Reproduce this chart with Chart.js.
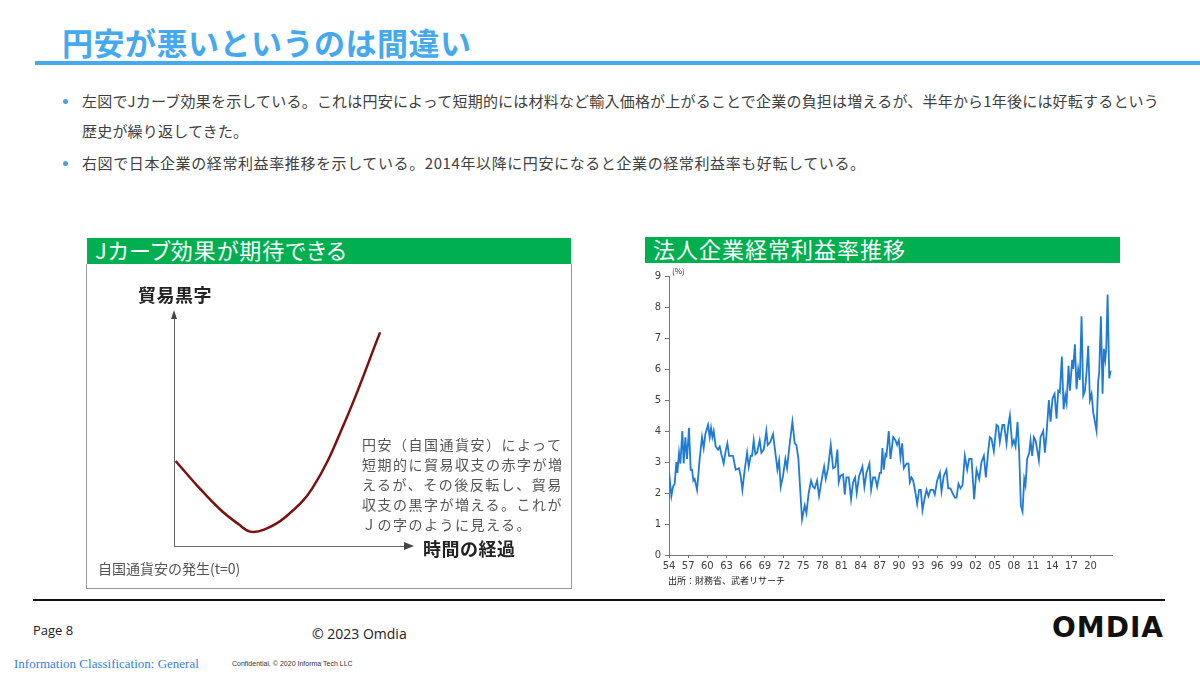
<!DOCTYPE html>
<html lang="ja">
<head>
<meta charset="utf-8">
<script src="https://cdn.jsdelivr.net/npm/chart.js@4.4.0/dist/chart.umd.min.js"></script>
<style>
body { margin:0; width:1200px; height:675px; background:#fff; position:relative; overflow:hidden; font-family:"Noto Sans CJK JP","Noto Sans",sans-serif; }
.abs { position:absolute; white-space:nowrap; }
#title { left:62px; top:24px; font-size:31px; line-height:36px; font-weight:700; color:#45a9f0; letter-spacing:0.5px; }
#rule { left:35px; top:61px; width:1165px; height:4px; background:#45a9f0; }
.bul { left:82px; font-size:15px; line-height:20px; color:#404040; letter-spacing:0.2px; }
.dot { left:63px; width:5px; height:5px; border-radius:50%; background:#4a9fe0; }
.hdr { background:#00b050; color:#fff; font-size:22px; line-height:22px; padding-left:8px; box-sizing:border-box; letter-spacing:1px; }
#leftBox { left:86px; top:264px; width:486px; height:325px; border:1px solid #999; border-top:none; box-sizing:border-box; }
.lbl { font-weight:700; font-size:18px; line-height:20px; color:#222; letter-spacing:0.5px; }
.note { left:362px; font-size:14px; line-height:20px; color:#555; letter-spacing:1.5px; }
canvas { position:absolute; }
</style>
</head>
<body>
<div class="abs" id="title">円安が悪いというのは間違い</div>
<div class="abs" id="rule"></div>

<div class="abs dot" style="top:99px"></div>
<div class="abs bul" style="top:91px">左図でJカーブ効果を示している。これは円安によって短期的には材料など輸入価格が上がることで企業の負担は増えるが、半年から1年後には好転するという</div>
<div class="abs bul" style="top:121px">歴史が繰り返してきた。</div>
<div class="abs dot" style="top:161px"></div>
<div class="abs bul" style="top:153px; letter-spacing:0.6px;">右図で日本企業の経常利益率推移を示している。2014年以降に円安になると企業の経常利益率も好転している。</div>

<div class="abs hdr" style="left:87px; top:238px; width:484px; height:26px; font-feature-settings:'palt';">Jカーブ効果が期待できる</div>
<div class="abs" id="leftBox"></div>
<canvas id="jChart" width="484" height="323" style="left:87px; top:265px;"></canvas>
<div class="abs lbl" style="left:138px; top:284px;">貿易黒字</div>
<div class="abs lbl" style="left:423px; top:538px;">時間の経過</div>
<div class="abs note" style="top:434px">円安（自国通貨安）によって</div>
<div class="abs note" style="top:454px">短期的に貿易収支の赤字が増</div>
<div class="abs note" style="top:474px">えるが、その後反転し、貿易</div>
<div class="abs note" style="top:494px">収支の黒字が増える。これが</div>
<div class="abs note" style="top:514px">Ｊの字のように見える。</div>
<div class="abs" style="left:98px; top:558px; font-size:14px; line-height:20px; color:#555;">自国通貨安の発生(t=0)</div>

<div class="abs hdr" style="left:645px; top:237px; width:475px; height:26px;">法人企業経常利益率推移</div>
<canvas id="rateChart" width="495" height="316" style="left:630px; top:262px;"></canvas>
<div class="abs" style="left:672px; top:266px; font-size:8px; line-height:10px; color:#333;">(%)</div>
<div class="abs" style="left:668px; top:575px; font-size:9px; line-height:12px; color:#222;">出所：財務省、武者リサーチ</div>

<div class="abs" style="left:33px; top:599px; width:1132px; height:2px; background:#111;"></div>
<div class="abs" style="left:33px; top:621px; font-family:'Open Sans',sans-serif; font-size:13px; color:#222;">Page 8</div>
<div class="abs" style="left:312px; top:624px; font-family:'Open Sans',sans-serif; font-size:14px; color:#222;">© 2023 Omdia</div>
<div class="abs" style="left:14px; top:656px; font-family:'Liberation Serif',serif; font-size:13px; color:#3a7fd5;">Information Classification: General</div>
<div class="abs" style="left:232px; top:660px; font-family:'Liberation Sans',sans-serif; font-size:7px; color:#333;">Confidential. © 2020 Informa Tech LLC</div>
<div class="abs" style="left:1052px; top:611px; font-family:'DejaVu Sans',sans-serif; font-weight:900; font-size:28px; line-height:34px; letter-spacing:1px; color:#111;">OMDIA</div>

<script>
// J-curve sketch (time after depreciation vs trade balance)
var jTime = [0.07, 1.0, 2.0, 2.8, 3.3, 3.9, 4.8, 6.0, 7.4, 8.92];
var jBalance = [3.73, 2.65, 1.60, 0.95, 0.63, 0.72, 1.25, 2.55, 5.45, 9.37];

// ordinary profit ratio of Japanese corporations (%)
var rateYears = [
  1954.00,1954.37,1954.63,1954.89,1955.15,1955.31,1955.57,1955.78,1956.09,1956.30,
  1956.56,1956.82,1957.13,1957.39,1957.60,1957.81,1958.02,1958.39,1958.80,1959.17,
  1959.43,1959.69,1960.11,1960.37,1960.58,1960.79,1961.00,1961.31,1961.67,1961.94,
  1962.20,1962.56,1962.87,1963.14,1963.40,1964.02,1964.44,1964.96,1965.22,1965.49,
  1965.85,1966.22,1966.48,1966.79,1967.00,1967.26,1967.52,1967.78,1968.20,1968.46,
  1968.83,1969.24,1969.45,1969.87,1970.29,1970.71,1970.97,1971.23,1971.49,1971.85,
  1972.22,1972.48,1972.90,1973.32,1973.68,1973.94,1974.26,1974.57,1974.83,1975.25,
  1975.51,1975.87,1976.24,1976.55,1976.81,1977.18,1977.49,1978.01,1978.28,1978.54,
  1978.90,1979.32,1979.69,1980.05,1980.36,1980.57,1980.83,1981.25,1981.51,1981.77,
  1982.14,1982.50,1982.82,1983.13,1983.39,1983.76,1984.28,1984.59,1984.91,1985.38,
  1985.64,1985.95,1986.26,1986.58,1986.99,1987.20,1987.41,1987.62,1987.88,1988.04,
  1988.40,1988.67,1989.09,1989.45,1989.71,1989.98,1990.24,1990.50,1990.76,1991.18,
  1991.49,1991.70,1991.96,1992.22,1992.59,1992.85,1993.16,1993.42,1993.68,1993.94,
  1994.31,1994.62,1994.94,1995.35,1995.61,1995.98,1996.40,1996.66,1997.02,1997.44,
  1997.70,1998.07,1998.38,1998.75,1999.01,1999.32,1999.63,1999.95,2000.31,2000.68,
  2000.99,2001.36,2001.77,2002.14,2002.56,2002.92,2003.29,2003.60,2003.97,2004.23,
  2004.49,2004.85,2005.27,2005.53,2005.79,2006.21,2006.47,2006.84,2007.10,2007.36,
  2007.73,2007.99,2008.25,2008.56,2008.82,2009.08,2009.34,2009.61,2009.81,2010.07,
  2010.39,2010.60,2010.86,2011.12,2011.38,2011.64,2011.90,2012.16,2012.58,2012.84,
  2013.10,2013.47,2013.73,2014.04,2014.36,2014.67,2014.93,2015.19,2015.50,2015.77,
  2016.03,2016.24,2016.55,2016.76,2017.12,2017.28,2017.54,2017.80,2018.06,2018.32,
  2018.58,2018.85,2019.11,2019.37,2019.63,2019.89,2020.15,2020.41,2020.67,2020.93,
  2021.19,2021.35,2021.61,2021.87,2022.08,2022.29,2022.45,2022.66,2022.92,2023.13
];
var rateValues = [
  2.7,1.9,2.2,2.3,3.0,2.65,3.3,2.95,4.0,2.95,
  3.8,3.1,4.1,2.75,2.75,2.4,2.45,2.1,3.1,3.8,
  3.45,3.9,4.2,3.8,4.1,3.8,4.0,3.5,3.4,3.5,
  3.25,2.95,3.35,3.6,3.2,3.2,2.75,2.8,2.55,2.1,
  2.75,3.3,2.85,3.2,3.2,3.7,3.25,3.3,3.7,3.3,
  3.4,4.0,3.55,3.65,3.9,3.2,2.75,3.05,2.2,2.55,
  3.1,2.8,3.6,4.3,3.6,3.55,3.1,2.0,1.15,1.6,
  1.35,2.0,2.4,2.2,2.15,2.4,1.9,2.55,2.85,2.45,
  2.8,3.55,2.8,2.85,3.4,2.35,2.55,2.6,1.95,2.5,
  2.5,1.8,2.35,2.5,2.0,2.55,2.85,2.2,2.65,2.95,
  2.1,2.5,2.5,2.2,2.65,2.65,3.45,2.75,3.25,3.2,
  4.0,3.1,3.8,3.7,3.55,3.7,3.15,3.6,2.8,2.95,
  2.95,2.35,2.5,2.4,2.0,1.65,2.1,2.1,1.45,1.75,
  2.1,1.9,2.1,2.1,1.95,2.4,2.65,2.05,2.55,2.75,
  2.15,2.15,2.0,1.85,1.85,2.3,2.15,2.25,3.2,2.75,
  3.1,3.1,1.8,2.75,2.45,3.0,3.2,2.5,3.35,3.8,
  3.75,3.35,4.2,4.15,3.65,4.2,4.2,3.6,4.15,4.5,
  3.55,3.7,3.5,4.3,3.3,1.6,1.4,2.45,2.25,3.1,
  3.3,3.7,3.2,3.8,3.7,3.4,3.05,3.8,4.0,3.3,
  3.9,5.0,4.3,5.05,5.2,4.4,5.3,5.25,6.4,4.7,
  5.15,4.9,6.1,5.3,6.3,6.0,6.8,5.35,6.0,5.65,
  7.7,5.15,5.3,5.9,6.75,5.0,5.2,4.6,4.3,4.0,
  5.6,5.9,7.7,5.2,6.65,6.3,6.65,8.4,5.7,5.95
];
var xTickYears = [1954,1957,1960,1963,1966,1969,1972,1975,1978,1981,1984,1987,1990,1993,1996,1999,2002,2005,2008,2011,2014,2017,2020];
var xTickLabels = ['54','57','60','63','66','69','72','75','78','81','84','87','90','93','96','99','02','05','08','11','14','17','20'];

// arrowheads at the ends of the J-curve axes
var arrowPlugin = {
    id: 'arrows',
    afterDraw: function(chart) {
        var ctx = chart.ctx;
        var xs = chart.scales.x, ys = chart.scales.y;
        var x0 = xs.getPixelForValue(0), y0 = ys.getPixelForValue(0);
        var xEnd = xs.getPixelForValue(10), yEnd = ys.getPixelForValue(10);
        ctx.save();
        ctx.fillStyle = '#444';
        ctx.beginPath();
        ctx.moveTo(xEnd + 9, y0);
        ctx.lineTo(xEnd - 1, y0 - 4);
        ctx.lineTo(xEnd - 1, y0 + 4);
        ctx.closePath();
        ctx.fill();
        ctx.beginPath();
        ctx.moveTo(x0, yEnd - 8);
        ctx.lineTo(x0 - 3, yEnd + 1);
        ctx.lineTo(x0 + 3, yEnd + 1);
        ctx.closePath();
        ctx.fill();
        ctx.restore();
    }
};

var ctx = document.getElementById('jChart').getContext('2d');
var jChart = new Chart(ctx, {
    type: 'line',
    data: {
        datasets: [{
            data: jTime.map(function(t, i) { return { x: t, y: jBalance[i] }; }),
            borderColor: '#7a1111',
            borderWidth: 2.5,
            pointRadius: 0,
            tension: 0.4
        }]
    },
    options: {
        responsive: false,
        animation: false,
        layout: { padding: { left: 87, right: 166, top: 53, bottom: 42 } },
        plugins: { legend: { display: false }, tooltip: { enabled: false } },
        scales: {
            x: {
                type: 'linear', min: 0, max: 10,
                ticks: { display: false },
                grid: { display: false },
                border: { display: true, color: '#666', width: 1 },
                afterFit: function(s) { s.height = 0; }
            },
            y: {
                min: 0, max: 10,
                ticks: { display: false },
                grid: { display: false },
                border: { display: true, color: '#666', width: 1 },
                afterFit: function(s) { s.width = 0; }
            }
        }
    },
    plugins: [arrowPlugin]
});

var ctx = document.getElementById('rateChart').getContext('2d');
var rateChart = new Chart(ctx, {
    type: 'line',
    data: {
        datasets: [{
            data: rateYears.map(function(yr, i) { return { x: yr, y: rateValues[i] }; }),
            borderColor: '#1f7bd3',
            borderWidth: 1.8,
            pointRadius: 0,
            tension: 0
        }]
    },
    options: {
        responsive: false,
        animation: false,
        layout: { padding: { left: 0, right: 13, top: 14, bottom: 0 } },
        plugins: { legend: { display: false }, tooltip: { enabled: false } },
        scales: {
            x: {
                type: 'linear', min: 1954, max: 2023.35,
                afterBuildTicks: function(s) { s.ticks = xTickYears.map(function(v) { return { value: v }; }); },
                afterFit: function(s) { s.height = 23; },
                ticks: {
                    autoSkip: false, maxRotation: 0, padding: 2, color: '#404040',
                    font: { family: 'DejaVu Sans', size: 10 },
                    callback: function(v, i) { return xTickLabels[i]; }
                },
                grid: { display: true, drawOnChartArea: false, drawTicks: true, tickLength: 3, color: '#777' },
                border: { color: '#777', width: 1 }
            },
            y: {
                min: 0, max: 9,
                afterFit: function(s) { s.width = 39; },
                ticks: { stepSize: 1, padding: 4, color: '#404040', font: { family: 'DejaVu Sans', size: 10 } },
                grid: { display: true, drawOnChartArea: false, drawTicks: true, tickLength: 4, color: '#777' },
                border: { color: '#777', width: 1 }
            }
        }
    }
});
</script>
</body>
</html>
